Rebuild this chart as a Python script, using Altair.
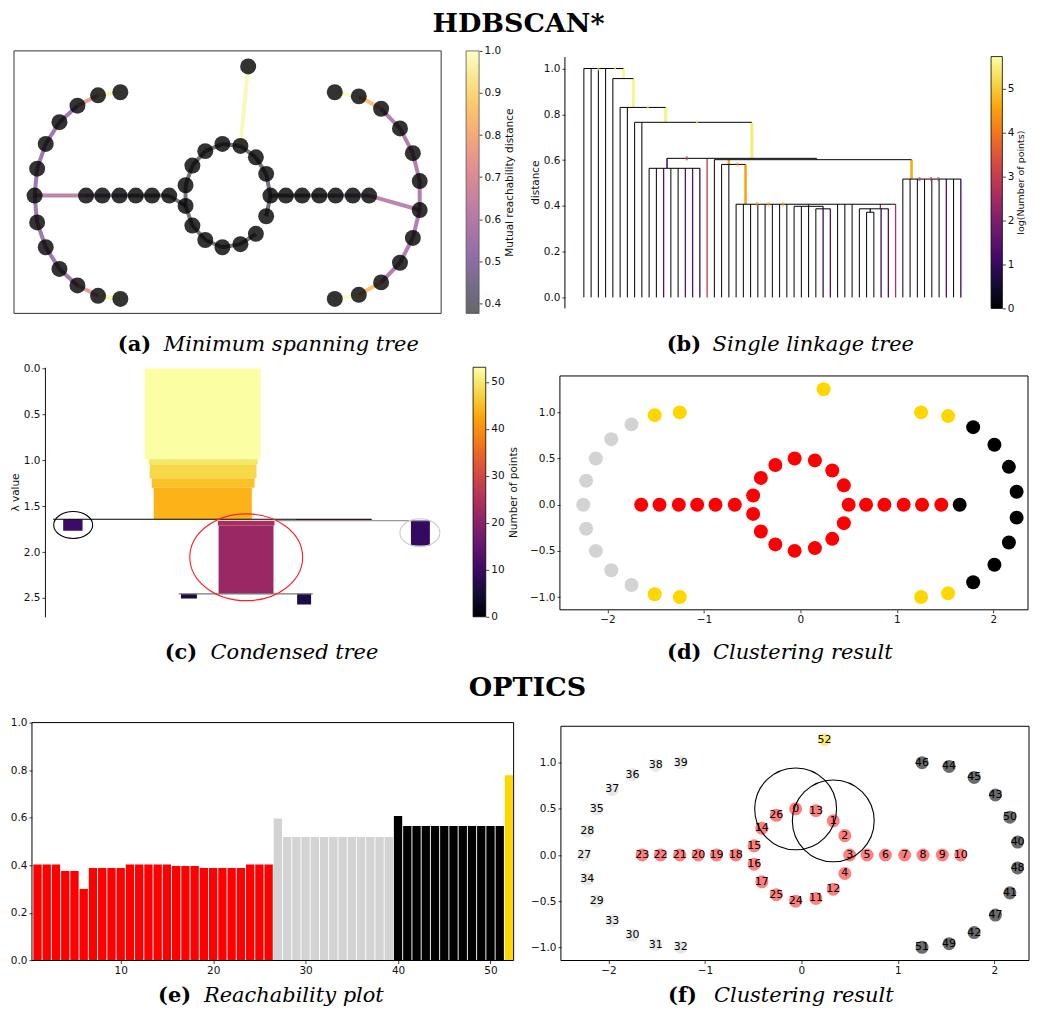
import altair as alt
import pandas as pd

SANS = "DejaVu Sans"
SERIF = "DejaVu Serif"
INK = "#111111"
MINUS = "replace(datum.label, '-', '\u2212')"
INFERNO = ["#000004", "#160b39", "#420a68", "#6a176e", "#932667", "#bc3754",
           "#dd513a", "#f37819", "#fca50a", "#f6d746", "#fcffa4"]

# ---------------- point cloud (shared by a, d, f) ----------------
IDX = list(range(53))
PX = [-0.06, 0.33, 0.45, 0.50, 0.45, 0.68, 0.87, 1.07, 1.26, 1.46,
      1.65, 0.15, 0.33, 0.15, -0.41, -0.49, -0.49, -0.41, -0.68, -0.88,
      -1.07, -1.26, -1.46, -1.65, -0.06, -0.26, -0.26, -2.25, -2.22, -2.12,
      -1.75, -1.51, -1.25, -1.96, -2.22, -2.12, -1.75, -1.96, -1.51, -1.25,
      2.24, 2.16, 1.79, 2.01, 1.53, 1.79, 1.25, 2.01, 2.24, 1.53,
      2.16, 1.25, 0.24]
PY = [0.50, 0.37, 0.21, 0.00, -0.20, 0.00, 0.00, 0.00, 0.00, 0.00,
      0.00, -0.47, -0.37, 0.48, 0.29, 0.10, -0.10, -0.29, 0.00, 0.00,
      0.00, 0.00, 0.00, 0.00, -0.50, -0.43, 0.43, 0.00, 0.26, -0.50,
      -0.87, -0.97, -1.00, -0.71, -0.26, 0.50, 0.87, 0.71, 0.97, 1.00,
      0.14, -0.41, -0.84, 0.65, 0.96, 0.84, 1.00, -0.65, -0.14, -0.96,
      0.41, -1.00, 1.25]
HDB = ["r", "r", "r", "r", "r", "r", "r", "r", "r", "r",
       "k", "r", "r", "r", "r", "r", "r", "r", "r", "r",
       "r", "r", "r", "r", "r", "r", "r", "g", "g", "g",
       "g", "y", "y", "g", "g", "g", "g", "g", "y", "y",
       "k", "k", "k", "k", "y", "k", "y", "k", "k", "y",
       "k", "y", "y"]
OPT = ["A"] * 27 + ["B"] * 13 + ["C"] * 12 + ["N"]

# ---------------- minimum spanning tree (a) ----------------
E_SRC = [0, 13, 1, 2, 3, 12, 11, 24, 25, 17, 16, 15, 14, 26,
         3, 5, 6, 7, 8, 9, 10,
         16, 18, 19, 20, 21, 22, 23,
         27, 28, 35, 37, 36, 38, 27, 34, 29, 33, 30, 31,
         48, 40, 50, 43, 45, 44, 48, 41, 47, 42, 49,
         52]
E_DST = [13, 1, 2, 3, 4, 11, 24, 25, 17, 16, 15, 14, 26, 0,
         5, 6, 7, 8, 9, 10, 48,
         18, 19, 20, 21, 22, 23, 27,
         28, 35, 37, 36, 38, 39, 34, 29, 33, 30, 31, 32,
         40, 50, 43, 45, 44, 46, 41, 47, 42, 49, 51,
         13]
E_W = [0.40, 0.40, 0.40, 0.40, 0.40, 0.40, 0.40, 0.40, 0.40, 0.40, 0.40, 0.40, 0.40, 0.40,
       0.40, 0.40, 0.40, 0.42, 0.46, 0.48, 0.60,
       0.40, 0.40, 0.40, 0.42, 0.46, 0.48, 0.60,
       0.52, 0.52, 0.52, 0.53, 0.74, 0.97, 0.52, 0.52, 0.52, 0.53, 0.74, 0.97,
       0.57, 0.57, 0.57, 0.57, 0.84, 0.99, 0.57, 0.57, 0.57, 0.84, 0.99,
       0.98]

# ---------------- single linkage tree (b) ----------------
LEAF_TOP = [1.0, 1.0, 1.0, 1.0, 0.956, 0.83, 0.83, 0.765, 0.765,
            0.564, 0.564, 0.564, 0.564, 0.564, 0.564, 0.564, 0.564,
            0.6076, 0.6017, 0.581, 0.581,
            0.407, 0.407, 0.407, 0.407, 0.407, 0.407, 0.407, 0.407,
            0.398, 0.398, 0.398, 0.387, 0.387, 0.387, 0.407, 0.407, 0.407,
            0.387, 0.372, 0.372, 0.387, 0.387, 0.407,
            0.517, 0.517, 0.517, 0.517, 0.517, 0.517, 0.517, 0.517, 0.517]
LEAF_VAL = [0, 0, 0, 0, 0, 0, 0, 0, 0,
            0, 0, 1.4, 0, 0, 1.4, 1.4, 1.0,
            3.0, 0, 0, 0,
            0, 0, 0, 0, 0, 0, 0, 0,
            0, 0, 0, 0, 1.0, 1.4, 0, 0, 0,
            0, 0, 0, 1.0, 1.4, 2.7,
            0, 0, 0, 0, 0, 0, 1.4, 0, 1.0]
LEG_X = [5.46, 6.83, 11.28, 23.17, 11.47, 32.1, 20.0, 22.3, 45.2, 31.0, 33.0, 39.5, 40.9]
LEG_TOP = [1.0, 0.956, 0.83, 0.765, 0.6076, 0.6076, 0.6017, 0.581, 0.6017, 0.407, 0.398, 0.387, 0.407]
LEG_BOT = [0.956, 0.83, 0.765, 0.6076, 0.564, 0.6017, 0.581, 0.407, 0.517, 0.398, 0.387, 0.372, 0.387]
LEG_VAL = [5.62, 5.58, 5.52, 5.45, 1.0, 3.0, 4.55, 4.52, 4.6, 2.0, 1.6, 1.0, 2.3]
LEG_W = [3, 3, 3, 3, 1.5, 1.5, 2.5, 2.5, 2.5, 1.3, 1.3, 1.3, 1.3]
HZ_Y = [1.0, 0.956, 0.83, 0.765, 0.6076, 0.6017, 0.564, 0.581, 0.407, 0.398, 0.387, 0.387, 0.372, 0.517]
HZ_X1 = [0, 4, 5, 7, 11.47, 18, 9, 19, 21, 29, 32, 38, 39, 44]
HZ_X2 = [5.46, 6.83, 11.28, 23.17, 32.1, 45.2, 16, 22.3, 43, 33, 34, 42, 40, 52]
TK_X = [2.0, 4.3, 8.8, 15.6, 14.2, 21.2, 23.85, 25.46, 27.5, 46.3, 47.9, 48.9]
TK_Y = [1.0, 1.0, 0.83, 0.765, 0.6076, 0.581, 0.407, 0.407, 0.407, 0.517, 0.517, 0.517]
TK_VAL = [5.6, 5.6, 5.5, 5.45, 3.0, 4.5, 4.5, 4.5, 4.5, 3.0, 3.0, 3.0]

# ---------------- condensed tree (c) ----------------
CT_X1 = [100, 104, 105, 107, 109, 18.3, 366.7, 173.3, 174, 136.3, 252.7, 251.7]
CT_X2 = [216, 213.3, 212, 210, 207.3, 37.7, 385.7, 230, 229, 152.3, 266.7, 327.3]
CT_L1 = [0.0, 0.990, 1.042, 1.197, 1.299, 1.643, 1.658, 1.658, 1.712, 2.456, 2.456, 1.640]
CT_L2 = [0.990, 1.042, 1.197, 1.299, 1.643, 1.767, 1.930, 1.712, 2.456, 2.507, 2.572, 1.657]
CT_N = [53, 50, 48, 45.5, 44, 10, 9, 24, 22, 6, 6, 30]
CL_Y = [1.643, 1.658, 2.456]
CL_X1 = [8.3, 231.7, 134]
CL_X2 = [327.3, 386, 268.3]
CL_C = ["#000000", "#999999", "#777777"]
EL_X = [28.3, 201.7, 375.7]
EL_Y = [1.705, 2.057, 1.789]
EL_W = [39, 113, 40]
EL_H = [27, 87, 28]
EL_C = ["#000000", "#ff2020", "#cccccc"]

# ---------------- reachability plot (e) ----------------
ORDER = list(range(1, 53))
REACH = [0.404, 0.404, 0.404, 0.376, 0.376, 0.301, 0.389, 0.389, 0.389, 0.389,
         0.404, 0.404, 0.404, 0.404, 0.404, 0.397, 0.397, 0.397, 0.389, 0.389,
         0.389, 0.389, 0.389, 0.404, 0.404, 0.404,
         0.597, 0.519, 0.519, 0.519, 0.519, 0.519, 0.519, 0.519, 0.519, 0.519, 0.519, 0.519, 0.519,
         0.607, 0.565, 0.565, 0.565, 0.565, 0.565, 0.565, 0.565, 0.565, 0.565, 0.565, 0.565,
         0.779]
REACH_CL = ["A"] * 26 + ["B"] * 13 + ["C"] * 12 + ["N"]

# ---------------- helpers ----------------
one = pd.DataFrame({"k": [0]})


def grad():
    return alt.LinearGradient(
        gradient="linear",
        stops=[alt.GradientStop(color=c, offset=i / 10) for i, c in enumerate(INFERNO)],
        x1=0, x2=0, y1=1, y2=0)


def axis(**kw):
    base = dict(labelFont=SANS, labelFontSize=10.5, labelColor=INK, tickColor=INK,
                tickSize=3, tickWidth=0.8, domain=False, grid=False, labelPadding=2,
                titleFont=SANS, titleFontSize=10.5, titleFontWeight="normal",
                titleColor=INK, labelFlush=False, labelOverlap=False)
    base.update(kw)
    return alt.Axis(**base)


def frame(x0, x1, y0, y1, color="#000000", w=1.0):
    return alt.Chart(one).mark_rect(fillOpacity=0, stroke=color, strokeWidth=w).encode(
        x=alt.value(x0), x2=alt.value(x1), y=alt.value(y0), y2=alt.value(y1))


def band(x0, x1, y0, y1):
    # invisible box that fixes the extent of a cell in the layout
    return alt.Chart(one).mark_rect(opacity=0).encode(
        x=alt.value(x0), x2=alt.value(x1), y=alt.value(y0), y2=alt.value(y1))


def spacer():
    return alt.layer(band(0, 1, 0, 1)).properties(width=1, height=1)


def label(text, x, y, size=21, weight="normal", style="normal", align="left"):
    return alt.Chart(one).mark_text(text=text, font=SERIF, fontSize=size, fontWeight=weight,
                                    fontStyle=style, align=align, baseline="middle",
                                    color="#000000").encode(x=alt.value(x), y=alt.value(y))


def caption(tag, text, x, y):
    return [label(tag, x, y, weight="bold"), label(text, x + 46, y, style="italic")]


def colorbar(lo, hi, dom, x0, x1, offset, values, fmt, title, opacity=1.0,
             stroke="#000000", title_size=10.5, title_pad=4):
    df = pd.DataFrame({"lo": [lo], "hi": [hi]})
    return alt.Chart(df).mark_rect(fill=grad(), fillOpacity=opacity, stroke=stroke,
                                   strokeWidth=0.8).encode(
        x=alt.value(x0), x2=alt.value(x1),
        y=alt.Y("lo:Q", scale=alt.Scale(domain=dom, nice=False, zero=False),
                axis=axis(orient="right", offset=offset, values=values, format=fmt,
                          title=title, titleAngle=270, titleBaseline="top",
                          titlePadding=title_pad, titleFontSize=title_size)),
        y2="hi:Q")


pts = pd.DataFrame({"idx": IDX, "x": PX, "y": PY, "hdb": HDB, "opt": OPT})

# ================= section titles =================
H0 = alt.layer(band(0, 516, 0, 30),
               label("HDBSCAN*", 511.5, 15.5, size=27, weight="bold", align="center")
               ).properties(width=1, height=1)
T0 = alt.layer(band(0, 516, 0, 33),
               label("OPTICS", 520.5, 18, size=27, weight="bold", align="center")
               ).properties(width=1, height=1)

# ================= (a) minimum spanning tree =================
A_W, A_H = 428, 263
sx_a = alt.Scale(domain=[-2.49, 2.49], nice=False, zero=False)
sy_a = alt.Scale(domain=[-1.14, 1.40], nice=False, zero=False)
edges = pd.DataFrame({"x": [PX[i] for i in E_SRC], "y": [PY[i] for i in E_SRC],
                      "x2": [PX[j] for j in E_DST], "y2": [PY[j] for j in E_DST], "w": E_W})
a_edges = alt.Chart(edges).mark_rule(strokeWidth=4, opacity=0.55).encode(
    x=alt.X("x:Q", scale=sx_a, axis=None), y=alt.Y("y:Q", scale=sy_a, axis=None),
    x2="x2:Q", y2="y2:Q",
    color=alt.Color("w:Q", scale=alt.Scale(scheme="inferno", domain=[0.376, 1.0]), legend=None))
a_pts = alt.Chart(pts).mark_circle(size=256, opacity=0.8, color="#000000").encode(
    x=alt.X("x:Q", scale=sx_a, axis=None), y=alt.Y("y:Q", scale=sy_a, axis=None))
a_cb = colorbar(0.376, 1.0, [0.376, 1.0], 453, 466, 38,
                [0.4, 0.5, 0.6, 0.7, 0.8, 0.9, 1.0], ".1f", "Mutual reachability distance",
                opacity=0.6, stroke="#555555")
A = alt.layer(
    a_edges, a_pts, frame(0, A_W, 0, A_H, "#333333"), a_cb,
    *caption("(a)", "Minimum spanning tree", 104, 295),
    band(-5, 510, -12, 312),
).resolve_scale(y="independent").properties(width=A_W, height=A_H)

# ================= (b) single linkage tree =================
B_W, B_H = 419, 263
sx_b = alt.Scale(domain=[-2.616, 55.07], nice=False, zero=False)
sy_b = alt.Scale(domain=[-0.0698, 1.077], nice=False, zero=False)
vert = pd.DataFrame({
    "x": list(range(53)) + LEG_X,
    "top": LEAF_TOP + LEG_TOP,
    "bot": [0.0] * 53 + LEG_BOT,
    "val": LEAF_VAL + LEG_VAL,
    "w": [1.0 if v == 0 else 1.3 for v in LEAF_VAL] + LEG_W,
})
horz = pd.DataFrame({"y": HZ_Y, "x1": HZ_X1, "x2": HZ_X2})
ticks = pd.DataFrame({"x": TK_X, "y": TK_Y, "val": TK_VAL})
spine = pd.DataFrame({"lo": [-0.048], "hi": [1.05]})
cscale_b = alt.Scale(scheme="inferno", domain=[0, 5.73])
b_vert = alt.Chart(vert).mark_rule().encode(
    x=alt.X("x:Q", scale=sx_b, axis=None),
    y=alt.Y("top:Q", scale=sy_b,
            axis=axis(orient="left", values=[0, 0.2, 0.4, 0.6, 0.8, 1.0], format=".1f",
                      title="distance", titlePadding=3)),
    y2="bot:Q",
    color=alt.Color("val:Q", scale=cscale_b, legend=None),
    strokeWidth=alt.StrokeWidth("w:Q", scale=None))
b_horz = alt.Chart(horz).mark_rule(color="#000000", strokeWidth=1).encode(
    x=alt.X("x1:Q", scale=sx_b, axis=None), x2="x2:Q",
    y=alt.Y("y:Q", scale=sy_b, axis=None))
b_tick = alt.Chart(ticks).mark_tick(orient="vertical", size=4, thickness=2).encode(
    x=alt.X("x:Q", scale=sx_b, axis=None),
    y=alt.Y("y:Q", scale=sy_b, axis=None),
    color=alt.Color("val:Q", scale=cscale_b, legend=None))
b_spine = alt.Chart(spine).mark_rule(color="#000000", strokeWidth=1).encode(
    x=alt.value(0),
    y=alt.Y("lo:Q", scale=sy_b, axis=None),
    y2="hi:Q")
b_cb = colorbar(0, 5.73, [-0.1136, 5.859], 427, 438.3, 19.3, [0, 1, 2, 3, 4, 5], "d",
                "log(Number of points)", title_size=9.5, title_pad=2)
B = alt.layer(
    b_vert, b_horz, b_tick, b_spine, b_cb,
    *caption("(b)", "Single linkage tree", 102, 295),
    band(-42, 0, -12, 312),
).resolve_scale(y="independent").properties(width=B_W, height=B_H)

# ================= (c) condensed tree =================
C_W, C_H = 395, 250
sx_c = alt.Scale(domain=[0, 395], nice=False, zero=False)
sy_c = alt.Scale(domain=[-0.014, 2.706], nice=False, zero=False, reverse=True)
crect = pd.DataFrame({"x1": CT_X1, "x2": CT_X2, "l1": CT_L1, "l2": CT_L2, "n": CT_N})
clines = pd.DataFrame({"y": CL_Y, "x1": CL_X1, "x2": CL_X2, "c": CL_C})
cell = pd.DataFrame({
    "x": EL_X, "y": EL_Y, "c": EL_C,
    "path": ["M-1,0A1,{r:.3f} 0 1,0 1,0A1,{r:.3f} 0 1,0 -1,0Z".format(r=h / w)
             for w, h in zip(EL_W, EL_H)],
    "size": [w * w for w in EL_W],
})
c_rect = alt.Chart(crect).mark_rect().encode(
    x=alt.X("x1:Q", scale=sx_c, axis=None), x2="x2:Q",
    y=alt.Y("l1:Q", scale=sy_c,
            axis=axis(orient="left", domain=True, domainColor=INK, domainWidth=1,
                      values=[0, 0.5, 1.0, 1.5, 2.0, 2.5], format=".1f",
                      title="\u03bb value", titlePadding=3)),
    y2="l2:Q",
    color=alt.Color("n:Q", scale=alt.Scale(scheme="inferno", domain=[0, 53.1]), legend=None))
c_lines = alt.Chart(clines).mark_rule(strokeWidth=1.2).encode(
    x=alt.X("x1:Q", scale=sx_c, axis=None), x2="x2:Q",
    y=alt.Y("y:Q", scale=sy_c, axis=None),
    color=alt.Color("c:N", scale=None))
c_ell = alt.Chart(cell).mark_point(filled=False, strokeWidth=1.1, opacity=1).encode(
    x=alt.X("x:Q", scale=sx_c, axis=None),
    y=alt.Y("y:Q", scale=sy_c, axis=None),
    shape=alt.Shape("path:N", scale=None),
    size=alt.Size("size:Q", scale=None),
    color=alt.Color("c:N", scale=None))
c_cb = colorbar(0, 53.1, [0, 53.1], 429, 441.7, 46.7, [0, 10, 20, 30, 40, 50], "d",
                "Number of points")
C = alt.layer(
    c_rect, c_lines, c_ell, c_cb,
    *caption("(c)", "Condensed tree", 120, 286),
    band(-36, 479, -5, 303),
).resolve_scale(y="independent").properties(width=C_W, height=C_H)

# ================= (d) HDBSCAN clustering =================
D_W, D_H = 469, 243
sx_d = alt.Scale(domain=[-2.492, 2.358], nice=False, zero=False)
sy_d = alt.Scale(domain=[-1.1384, 1.4886], nice=False, zero=False)
d_pts = alt.Chart(pts).mark_circle(size=196, opacity=1).encode(
    x=alt.X("x:Q", scale=sx_d,
            axis=axis(values=[-2, -1, 0, 1, 2], format="d", labelExpr=MINUS, title=None)),
    y=alt.Y("y:Q", scale=sy_d,
            axis=axis(values=[-1, -0.5, 0, 0.5, 1], format=".1f", labelExpr=MINUS, title=None)),
    color=alt.Color("hdb:N", scale=alt.Scale(domain=["r", "g", "k", "y"],
                                             range=["#ff0000", "#d3d3d3", "#000000", "#ffd700"]),
                    legend=None))
D = alt.layer(
    d_pts, frame(0, D_W, 8.7, D_H),
    *caption("(d)", "Clustering result", 107.3, 286),
    band(-36.7, 0, -5, 303),
).properties(width=D_W, height=D_H)

# ================= (e) reachability plot =================
E_W, E_H = 482.6, 238.4
sx_e = alt.Scale(domain=[0.4, 52.5], nice=False, zero=False)
sy_e = alt.Scale(domain=[0, 1], nice=False, zero=False)
reach = pd.DataFrame({"pos": ORDER, "r": REACH, "cl": REACH_CL})
e_bars = alt.Chart(reach).transform_calculate(
    lo="datum.pos - 0.45", hi="datum.pos + 0.45", z="0"
).mark_rect().encode(
    x=alt.X("lo:Q", scale=sx_e, axis=axis(values=[10, 20, 30, 40, 50], format="d", title=None)),
    x2="hi:Q",
    y=alt.Y("r:Q", scale=sy_e,
            axis=axis(values=[0, 0.2, 0.4, 0.6, 0.8, 1.0], format=".1f", title=None)),
    y2="z:Q",
    color=alt.Color("cl:N", scale=alt.Scale(domain=["A", "B", "C", "N"],
                                            range=["#ff0000", "#d3d3d3", "#000000", "#ffd700"]),
                    legend=None))
E = alt.layer(
    e_bars, frame(0, E_W, 0, E_H),
    *caption("(e)", "Reachability plot", 126.3, 274),
    band(-22.7, 492.3, -20, 284),
).properties(width=E_W, height=E_H)

# ================= (f) OPTICS clustering =================
F_W, F_H = 469, 238.4
sx_f = alt.Scale(domain=[-2.492, 2.358], nice=False, zero=False)
sy_f = alt.Scale(domain=[-1.1427, 1.4346], nice=False, zero=False)
f_pts = alt.Chart(pts).mark_circle(size=170, opacity=1).encode(
    x=alt.X("x:Q", scale=sx_f,
            axis=axis(values=[-2, -1, 0, 1, 2], format="d", labelExpr=MINUS, title=None)),
    y=alt.Y("y:Q", scale=sy_f,
            axis=axis(values=[-1, -0.5, 0, 0.5, 1], format=".1f", labelExpr=MINUS, title=None)),
    color=alt.Color("opt:N", scale=alt.Scale(domain=["A", "B", "C", "N"],
                                             range=["#ff7f7f", "#e8e8e8", "#6b6b6b", "#ffeb80"]),
                    legend=None))
f_txt = alt.Chart(pts).mark_text(font=SANS, fontSize=11, color="#000000").encode(
    x=alt.X("x:Q", scale=sx_f), y=alt.Y("y:Q", scale=sy_f), text="idx:N")
f_circ = alt.Chart(pts).transform_filter("datum.idx <= 1").mark_point(
    shape="circle", size=6724, filled=False, color="#000000", strokeWidth=1.1, opacity=1
).encode(x=alt.X("x:Q", scale=sx_f), y=alt.Y("y:Q", scale=sy_f))
F = alt.layer(
    f_pts, f_txt, f_circ, frame(0, F_W, 3.7, F_H),
    *caption("(f)", "Clustering result", 107.3, 274),
    band(-36.7, 0, -20, 284),
).properties(width=F_W, height=F_H)

row1 = alt.hconcat(spacer(), A, B, spacing=0).resolve_scale(color="independent")
row2 = alt.hconcat(spacer(), C, D, spacing=0).resolve_scale(color="independent")
row3 = alt.hconcat(spacer(), E, F, spacing=0).resolve_scale(color="independent")

chart = alt.vconcat(H0, row1, row2, T0, row3, spacing=0, padding=0).resolve_scale(
    color="independent").configure_view(strokeWidth=0)

chart.save("out.html", embed_options={"renderer": "svg", "actions": False})
